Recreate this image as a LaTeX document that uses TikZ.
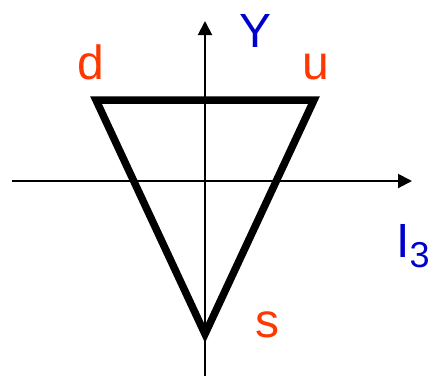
\documentclass[tikz,border=0pt]{standalone}
\usepackage{fontspec}
\setmainfont{Liberation Sans}
\usetikzlibrary{arrows.meta}

\definecolor{qred}{RGB}{255, 55, 0}
\definecolor{qblue}{RGB}{0, 0, 205}

\begin{document}
\begin{tikzpicture}[
    x=1pt, y=-1pt,
    font=\fontsize{48}{50}\selectfont,
    axis/.style={draw=black, line width=2pt, -{Triangle[length=14pt, width=14pt]}},
    edge/.style={draw=black, line width=7.5pt, line join=miter},
    quark/.style={text=qred, anchor=base, inner sep=0pt},
    qnum/.style={text=qblue, anchor=base, inner sep=0pt},
  ]
    \useasboundingbox (0, 0) rectangle (433, 376);

    % --- axes ---
    \coordinate (ybot) at (205, 376);
    \coordinate (ytop) at (205, 21);
    \coordinate (xlft) at (12, 181);
    \coordinate (xrgt) at (412, 181);
    \draw[axis] (ybot) -- (ytop);
    \draw[axis] (xlft) -- (xrgt);

    % --- quark triangle ---
    \coordinate (d) at (96, 100);
    \coordinate (u) at (314, 100);
    \coordinate (s) at (205, 334);
    \draw[edge] (d) -- (u) -- (s) -- cycle;

    % --- labels ---
    \node[quark] (dlab) at (91, 79) {d};
    \node[quark] (ulab) at (316, 79) {u};
    \node[quark] (slab) at (267, 337) {s};
    \node[qnum] (ylab) at (256, 47) {Y};
    \node[qnum, anchor=base west] (ilab) at (396, 257)
      {I\raisebox{-10pt}{\fontsize{36}{36}\selectfont 3}};
  \end{tikzpicture}
\end{document}
